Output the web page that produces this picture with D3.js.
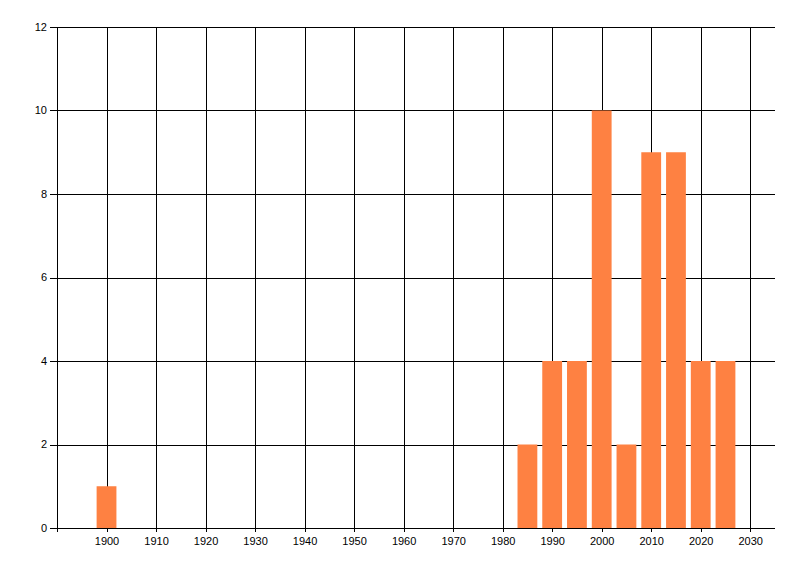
<!DOCTYPE html>
<html>
<head>
<meta charset="utf-8">
<script src="https://cdn.jsdelivr.net/npm/d3@7"></script>
<style>
  body { margin: 0; background: #fff; }
  svg text { font-family: "Liberation Sans", Arial, sans-serif; font-size: 11px; fill: #000; }
</style>
</head>
<body>
<div id="chart"></div>
<script>
// data
const years = [1900, 1985, 1990, 1995, 2000, 2005, 2010, 2015, 2020, 2025];
const counts = [1, 2, 4, 4, 10, 2, 9, 9, 4, 4];
const xTicks = [1900, 1910, 1920, 1930, 1940, 1950, 1960, 1970, 1980, 1990, 2000, 2010, 2020, 2030];
const yTicks = [0, 2, 4, 6, 8, 10, 12];

const width = 800, height = 576;
const margin = {top: 27, right: 25, bottom: 48, left: 57};

const svg = d3.select('#chart').append('svg')
    .attr('width', width)
    .attr('height', height);

const x = d3.scaleLinear()
    .domain([1890, 2035])
    .range([margin.left, width - margin.right]);
const y = d3.scaleLinear()
    .domain([0, 12])
    .range([height - margin.bottom, margin.top]);

// grid
svg.append('g')
    .selectAll('line')
    .data(yTicks)
    .enter().append('line')
    .attr('x1', margin.left - 7)
    .attr('x2', width - margin.right)
    .attr('y1', d => Math.round(y(d)) + 0.5)
    .attr('y2', d => Math.round(y(d)) + 0.5)
    .attr('stroke', '#000');

svg.append('g')
    .selectAll('line')
    .data(xTicks)
    .enter().append('line')
    .attr('x1', d => Math.round(x(d)) + 0.5)
    .attr('x2', d => Math.round(x(d)) + 0.5)
    .attr('y1', margin.top)
    .attr('y2', height - margin.bottom + 4)
    .attr('stroke', '#000');

// y axis line
svg.append('line')
    .attr('x1', margin.left + 0.5)
    .attr('x2', margin.left + 0.5)
    .attr('y1', margin.top)
    .attr('y2', height - margin.bottom + 4)
    .attr('stroke', '#000');

// bars
const barW = x(1904) - x(1900);
svg.append('g')
    .selectAll('rect')
    .data(years)
    .enter().append('rect')
    .attr('x', d => x(d) - barW / 2)
    .attr('y', (d, i) => y(counts[i]))
    .attr('width', barW)
    .attr('height', (d, i) => y(0) - y(counts[i]))
    .attr('fill', '#fe8142');

// redraw axis line over bars
svg.append('line')
    .attr('x1', margin.left - 7)
    .attr('x2', width - margin.right)
    .attr('y1', Math.round(y(0)) + 0.5)
    .attr('y2', Math.round(y(0)) + 0.5)
    .attr('stroke', '#000');

// labels
svg.append('g')
    .selectAll('text')
    .data(yTicks)
    .enter().append('text')
    .attr('x', margin.left - 10)
    .attr('y', d => y(d))
    .attr('dy', '0.35em')
    .attr('text-anchor', 'end')
    .text(d => d);

svg.append('g')
    .selectAll('text')
    .data(xTicks)
    .enter().append('text')
    .attr('x', d => x(d) + 0.5)
    .attr('y', height - margin.bottom + 17)
    .attr('text-anchor', 'middle')
    .text(d => d);
</script>
</body>
</html>
